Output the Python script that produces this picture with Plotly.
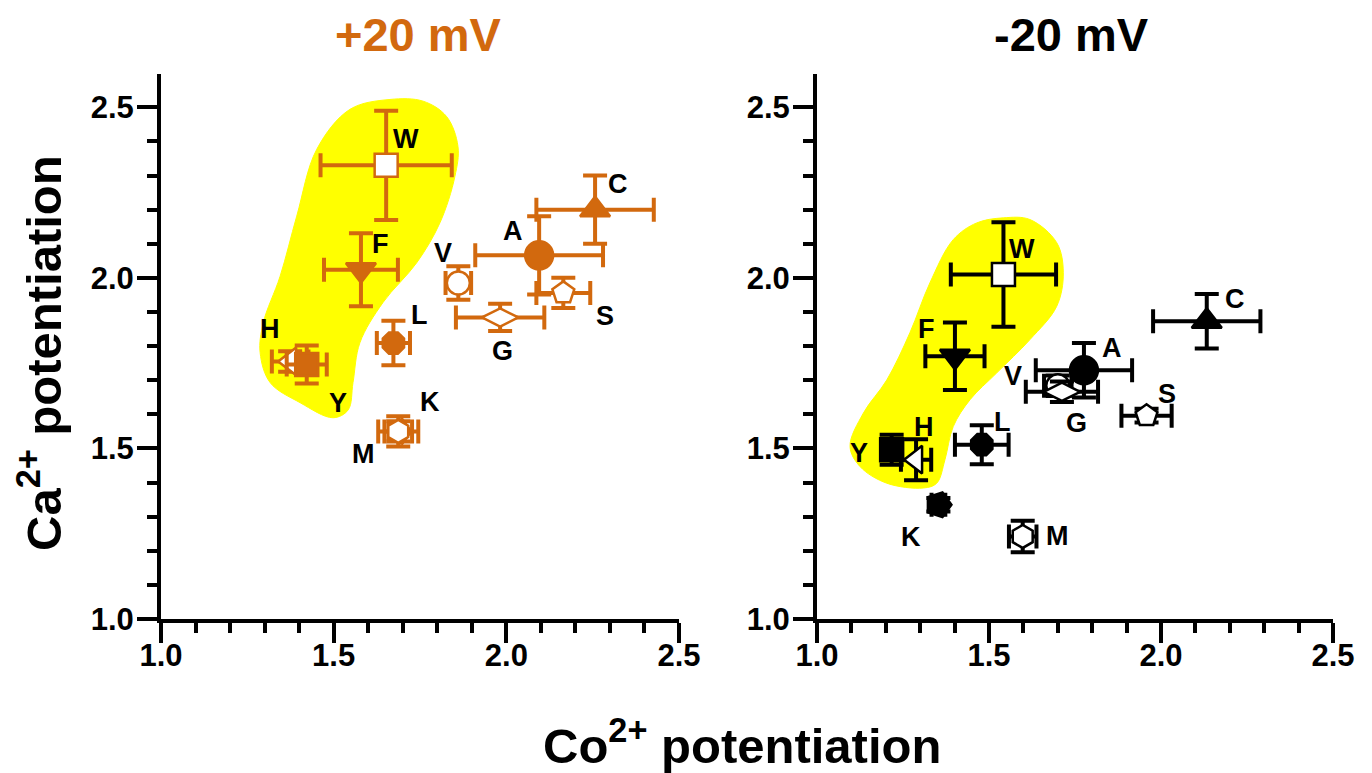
import plotly.graph_objects as go

# ---------------- data ----------------
labels = ["W", "F", "V", "A", "C", "G", "S", "L", "H", "Y", "K", "M"]

# +20 mV panel
pos_x = [1.652, 1.579, 1.861, 2.095, 2.257, 1.982, 2.165, 1.673, 1.374, 1.422, 1.687, 1.687]
pos_y = [2.330, 2.024, 1.985, 2.066, 2.200, 1.884, 1.956, 1.809, 1.755, 1.746, 1.550, 1.550]
pos_xerr = [0.190, 0.107, 0.037, 0.185, 0.170, 0.128, 0.078, 0.048, 0.053, 0.058, 0.040, 0.058]
pos_yerr = [0.160, 0.107, 0.049, 0.115, 0.100, 0.040, 0.044, 0.065, 0.030, 0.056, 0.030, 0.044]

# -20 mV panel
neg_x = [1.542, 1.401, 1.700, 1.776, 2.133, 1.712, 1.958, 1.479, 1.288, 1.217, 1.353, 1.598]
neg_y = [2.010, 1.770, 1.684, 1.729, 1.873, 1.666, 1.596, 1.511, 1.467, 1.496, 1.335, 1.242]
neg_xerr = [0.153, 0.086, 0.040, 0.140, 0.156, 0.105, 0.073, 0.078, 0.044, 0.030, 0.020, 0.040]
neg_yerr = [0.153, 0.099, 0.030, 0.080, 0.080, 0.030, 0.020, 0.057, 0.060, 0.044, 0.020, 0.046]

# yellow highlight regions (outline in data units)
blob_pos_x = [1.663, 1.547, 1.451, 1.393, 1.345, 1.296, 1.287, 1.316, 1.403, 1.498,
              1.542, 1.556, 1.576, 1.643, 1.741, 1.808, 1.851, 1.860, 1.827, 1.759]
blob_pos_y = [2.523, 2.494, 2.377, 2.181, 2.005, 1.868, 1.781, 1.693, 1.634, 1.590,
              1.613, 1.693, 1.810, 1.928, 2.045, 2.162, 2.297, 2.385, 2.473, 2.518]
blob_neg_x = [1.542, 1.619, 1.697, 1.716, 1.697, 1.619, 1.522, 1.445, 1.396, 1.372, 1.348,
              1.309, 1.203, 1.125, 1.096, 1.135, 1.203, 1.270, 1.328, 1.396, 1.464]
blob_neg_y = [2.176, 2.171, 2.103, 2.015, 1.917, 1.819, 1.721, 1.643, 1.564, 1.467, 1.398,
              1.384, 1.398, 1.447, 1.506, 1.604, 1.701, 1.839, 1.985, 2.112, 2.161]

x_ticks = [1.0, 1.5, 2.0, 2.5]
y_ticks = [1.0, 1.5, 2.0, 2.5]
x_ticktext = ["<b>%.1f</b>" % v for v in x_ticks]
y_ticktext = ["<b>%.1f</b>" % v for v in y_ticks]

# ---------------- style ----------------
ORANGE = "#D2690E"
BLACK = "#000000"
YELLOW = "#FFFF00"
FONT = "Liberation Sans, Arial, sans-serif"

symbols = {"W": ("square", False), "F": ("triangle-down", True), "V": ("circle", False),
           "A": ("circle", True), "C": ("triangle-up", True), "G": ("diamond-wide", False),
           "S": ("pentagon", False), "L": ("octagon", True), "H": ("triangle-left", False),
           "Y": ("square", True), "K": ("pentagon", True), "M": ("hexagon", False)}
sizes = {"A": 28, "C": 26, "F": 26, "H": 24, "G": 26, "K": 26}
angles = {"K": 90}
draw_order = ["K", "M", "W", "F", "V", "G", "A", "C", "S", "L", "H", "Y"]

label_off_pos = {"W": (20, -26), "F": (20, -26), "V": (-15, -30), "A": (-26, -24),
                 "C": (23, -26), "S": (42, 23), "G": (2, 34), "L": (26, -28),
                 "H": (-20, -32), "Y": (31, 38), "K": (32, -29), "M": (-35, 23)}
label_off_neg = {"W": (19, -25), "F": (-28, -27), "V": (-45, -10), "A": (28, -22),
                 "C": (28, -22), "G": (15, 31), "S": (20, -22), "L": (21, -23),
                 "H": (8, -33), "Y": (-33, 3), "K": (-27, 32), "M": (35, 0)}

W, H = 1372, 773
OFF = 8  # page body margin


def fx(px):
    return (px - OFF) / W


def fy(py):
    return 1 - (py - OFF) / H


fig = go.Figure()

# highlight regions
fig.add_trace(go.Scatter(x=blob_pos_x + blob_pos_x[:1], y=blob_pos_y + blob_pos_y[:1],
                         mode="lines", fill="toself", fillcolor=YELLOW,
                         line=dict(color=YELLOW, width=1, shape="spline", smoothing=1.0),
                         xaxis="x", yaxis="y", hoverinfo="skip", showlegend=False))
fig.add_trace(go.Scatter(x=blob_neg_x + blob_neg_x[:1], y=blob_neg_y + blob_neg_y[:1],
                         mode="lines", fill="toself", fillcolor=YELLOW,
                         line=dict(color=YELLOW, width=1, shape="spline", smoothing=1.0),
                         xaxis="x2", yaxis="y2", hoverinfo="skip", showlegend=False))


def add_points(xs, ys, xe, ye, color, xa, ya, offs):
    for lab in draw_order:
        i = labels.index(lab)
        sym, filled = symbols[lab]
        fig.add_trace(go.Scatter(
            x=[xs[i]], y=[ys[i]], mode="markers", xaxis=xa, yaxis=ya,
            marker=dict(symbol=sym, size=sizes.get(lab, 23), angle=angles.get(lab, 0),
                        color=color if filled else "white",
                        line=dict(color=color, width=2.5)),
            error_x=dict(type="data", array=[xe[i]], color=color, thickness=4, width=12),
            error_y=dict(type="data", array=[ye[i]], color=color, thickness=4, width=12),
            cliponaxis=False, showlegend=False, name=lab))
    for i, lab in enumerate(labels):
        dx, dy = offs[lab]
        fig.add_annotation(x=xs[i], y=ys[i], xref=xa, yref=ya, text="<b>%s</b>" % lab,
                           showarrow=False, xanchor="center", yanchor="middle",
                           xshift=dx, yshift=-dy,
                           font=dict(family=FONT, size=27, color="black"))


add_points(pos_x, pos_y, pos_xerr, pos_yerr, ORANGE, "x", "y", label_off_pos)
add_points(neg_x, neg_y, neg_xerr, neg_yerr, BLACK, "x2", "y2", label_off_neg)

ybot = fy(619)
ytop = fy(619 - 1.6 * 340.7)

axis_common = dict(showline=True, linecolor="black", linewidth=4, ticks="outside",
                   ticklen=20, tickwidth=4, tickcolor="black", showgrid=False,
                   zeroline=False, mirror=False, automargin=False, tickmode="array",
                   tickfont=dict(family=FONT, size=31, color="black"))
minor = dict(dtick=0.1, ticklen=10, tickwidth=4, tickcolor="black", ticks="outside")
xstand = dict(ticklabelstandoff=-14)
ystand = dict(ticklabelstandoff=-3)

fig.update_layout(
    template="none",
    width=W, height=H, plot_bgcolor="white", paper_bgcolor="white",
    margin=dict(l=0, r=0, t=0, b=0, pad=0, autoexpand=False),
    xaxis=dict(domain=[fx(161), fx(679)], range=[1.0, 2.5], tickvals=x_ticks,
               ticktext=x_ticktext, minor=minor, anchor="y", **xstand, **axis_common),
    yaxis=dict(domain=[ybot, ytop], range=[1.0, 2.598], tickvals=y_ticks,
               ticktext=y_ticktext, minor=minor, anchor="x", **ystand, **axis_common),
    xaxis2=dict(domain=[fx(817), fx(1333)], range=[1.0, 2.5], tickvals=x_ticks,
                ticktext=x_ticktext, minor=minor, anchor="y2", **xstand, **axis_common),
    yaxis2=dict(domain=[ybot, ytop], range=[1.0, 2.598], tickvals=y_ticks,
                ticktext=y_ticktext, minor=minor, anchor="x2", **ystand, **axis_common),
)

title_common = dict(xref="paper", yref="paper", showarrow=False,
                    xanchor="center", yanchor="middle")
fig.add_annotation(x=fx(418), y=fy(34), text="<b>+20 mV</b>",
                   font=dict(family=FONT, size=47, color=ORANGE), **title_common)
fig.add_annotation(x=fx(1071), y=fy(34), text="<b>-20 mV</b>",
                   font=dict(family=FONT, size=47, color="black"), **title_common)
fig.add_annotation(x=fx(742), y=fy(742), text="<b>Co<sup>2+</sup> potentiation</b>",
                   font=dict(family=FONT, size=49, color="black"), **title_common)
fig.add_annotation(x=fx(40), y=fy(353), text="<b>Ca<sup>2+</sup> potentiation</b>",
                   textangle=-90, font=dict(family=FONT, size=49, color="black"),
                   **title_common)

fig.write_html("out.html")
